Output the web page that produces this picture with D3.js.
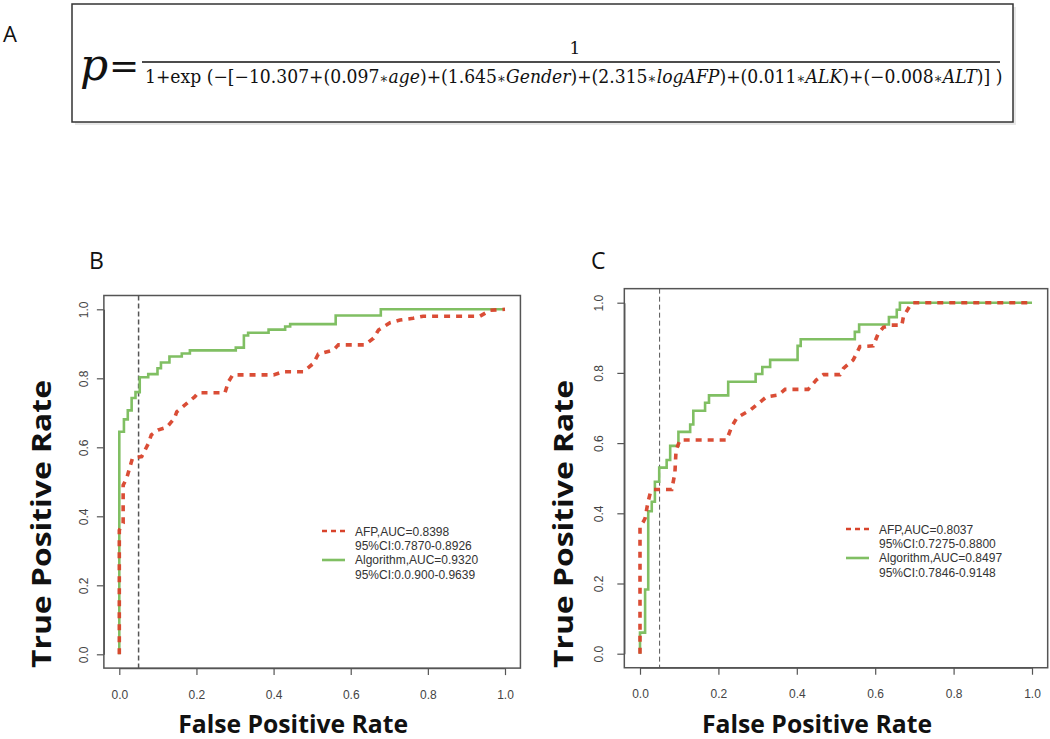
<!DOCTYPE html>
<html><head><meta charset="utf-8">
<script src="https://cdn.jsdelivr.net/npm/d3@7"></script>
<style>
html,body{margin:0;padding:0;background:#fff;}
svg{display:block;}
</style></head>
<body>
<svg id="chart" width="1050" height="739"></svg>
<script>
// ---------- DATA ----------
const tickValues = [0, 0.2, 0.4, 0.6, 0.8, 1.0];
const cutoffFPR = 0.05;

// Panel B
const bAlgorithm = [[0,0],[0,0.645],[0.012,0.681],[0.022,0.707],[0.032,0.743],[0.042,0.760],[0.053,0.803],[0.075,0.812],[0.099,0.829],[0.108,0.846],[0.130,0.863],[0.162,0.872],[0.183,0.881],[0.302,0.889],[0.323,0.924],[0.334,0.932],[0.387,0.941],[0.430,0.950],[0.443,0.957],[0.561,0.982],[0.678,1.0],[1.0,1.0]];
const bAFP = [[0,0],[0,0.36],[0.010,0.38],[0.010,0.49],[0.019,0.51],[0.034,0.568],[0.058,0.573],[0.075,0.61],[0.083,0.636],[0.10,0.65],[0.123,0.658],[0.143,0.684],[0.149,0.703],[0.175,0.727],[0.196,0.747],[0.205,0.758],[0.274,0.758],[0.283,0.79],[0.294,0.81],[0.40,0.81],[0.425,0.819],[0.477,0.819],[0.503,0.843],[0.516,0.87],[0.555,0.882],[0.568,0.897],[0.637,0.897],[0.659,0.916],[0.672,0.94],[0.702,0.961],[0.728,0.969],[0.762,0.974],[0.788,0.98],[0.935,0.98],[0.961,0.997],[1,1]];
const bLegend = ["AFP,AUC=0.8398","95%CI:0.7870-0.8926","Algorithm,AUC=0.9320","95%CI:0.0.900-0.9639"];

// Panel C
const cAlgorithm = [[0,0],[0,0.06],[0.013,0.183],[0.021,0.406],[0.030,0.433],[0.038,0.49],[0.049,0.53],[0.068,0.552],[0.077,0.592],[0.098,0.632],[0.128,0.653],[0.136,0.692],[0.166,0.715],[0.176,0.736],[0.225,0.775],[0.295,0.797],[0.312,0.817],[0.332,0.837],[0.402,0.877],[0.41,0.896],[0.548,0.917],[0.559,0.938],[0.635,0.959],[0.655,0.98],[0.663,1.0],[1,1]];
const cAFP = [[0,0],[0,0.362],[0.0085,0.376],[0.013,0.386],[0.02,0.43],[0.026,0.457],[0.034,0.468],[0.081,0.468],[0.089,0.514],[0.092,0.58],[0.102,0.609],[0.221,0.609],[0.234,0.647],[0.247,0.672],[0.281,0.694],[0.302,0.713],[0.323,0.732],[0.353,0.737],[0.37,0.753],[0.429,0.753],[0.45,0.78],[0.468,0.795],[0.51,0.795],[0.519,0.813],[0.544,0.837],[0.561,0.875],[0.595,0.877],[0.608,0.913],[0.621,0.93],[0.642,0.936],[0.668,0.936],[0.672,0.96],[0.689,0.992],[0.697,1.0],[1,1]];
const cLegend = ["AFP,AUC=0.8037","95%CI:0.7275-0.8800","Algorithm,AUC=0.8497","95%CI:0.7846-0.9148"];

const xTitle = "False Positive Rate";
const yTitle = "True Positive Rate";

// ---------- STYLE ----------
const GREEN = "#80bf63";
const RED = "#d8432b";
const svg = d3.select("#chart");

// ---------- Panel A: formula ----------
svg.append("text").attr("x",3).attr("y",42).attr("font-family","Open Sans, Liberation Sans, sans-serif")
  .attr("font-size",22).attr("fill","#111").text("A");
svg.append("rect").attr("x",75).attr("y",7).attr("width",941).attr("height",118).attr("fill","#d8d8d8").attr("opacity",0.6);
svg.append("rect").attr("x",72).attr("y",4).attr("width",941).attr("height",118)
  .attr("fill","#fff").attr("stroke","#333").attr("stroke-width",1.5);
svg.append("text").attr("x",80).attr("y",80).attr("font-family","DejaVu Serif, Liberation Serif, serif")
  .attr("font-style","italic").attr("font-size",44).attr("fill","#111").text("p");
svg.append("text").attr("x",109).attr("y",78).attr("font-family","DejaVu Serif, serif")
  .attr("font-size",36).attr("fill","#111").text("=");
svg.append("line").attr("x1",142).attr("x2",1000).attr("y1",62).attr("y2",62).attr("stroke","#111").attr("stroke-width",1.6);
svg.append("text").attr("x",575).attr("y",54).attr("text-anchor","middle").attr("font-family","DejaVu Serif, serif")
  .attr("font-size",17).attr("fill","#111").text("1");
const denG = svg.append("g");
const den = denG.append("text").attr("x",0).attr("y",0).attr("font-family","DejaVu Serif, serif")
  .attr("font-size",18).attr("fill","#111");
const denParts = [["1+exp (−[−10.307+(0.097",0],["∗",2],["age",1],[")+(1.645",0],["∗",2],["Gender",1],[")+(2.315",0],["∗",2],["logAFP",1],[")+(0.011",0],["∗",2],["ALK",1],[")+(−0.008",0],["∗",2],["ALT",1],[")] )",0]];
denParts.forEach(([t,k]) => den.append("tspan").attr("font-style", k===1 ? "italic" : "normal")
  .attr("font-size", k===2 ? 14 : null).text(t));
const denW = den.node().getComputedTextLength();
denG.attr("transform",`translate(145,83) scale(${858/denW},1)`);

// ---------- ROC panel ----------
function panel(o){
  const x = d3.scaleLinear().domain([0,1]).range([o.x0,o.x1]);
  const y = d3.scaleLinear().domain([0,1]).range([o.y0,o.y1]);
  const padX = (o.x1-o.x0)*0.04, padY = (o.y0-o.y1)*0.04;
  const g = svg.append("g");
  g.append("text").attr("x",o.labelX).attr("y",269).attr("font-family","Open Sans, Liberation Sans, sans-serif")
    .attr("font-size",23).attr("fill","#111").text(o.label);

  // axes
  const xa = g.append("g").attr("transform",`translate(0,${o.y0+padY})`)
    .call(d3.axisBottom(x).tickValues(tickValues).tickFormat(d3.format(".1f")).tickSize(7).tickSizeOuter(0).tickPadding(15));
  const ya = g.append("g").attr("transform",`translate(${o.x0-padX},0)`)
    .call(d3.axisLeft(y).tickValues(tickValues).tickFormat(d3.format(".1f")).tickSize(7).tickSizeOuter(0));
  [xa,ya].forEach(a=>{
    a.selectAll("path.domain").attr("stroke","#555").attr("stroke-width",1.2);
    a.selectAll(".tick line").attr("stroke","#555").attr("stroke-width",1.2);
    a.selectAll(".tick text").attr("font-family","Liberation Sans, Arial, sans-serif").attr("font-size",12).attr("fill","#444");
  });
  ya.selectAll(".tick text").attr("x",null).attr("dy",null).attr("text-anchor","middle")
    .attr("transform",`translate(${-(o.x0-padX) + o.yLabX},0) rotate(-90)`);

  // box
  g.append("rect").attr("x",o.x0-padX).attr("y",o.y1-padY).attr("width",(o.x1-o.x0)+2*padX).attr("height",(o.y0-o.y1)+2*padY)
    .attr("fill","none").attr("stroke","#555").attr("stroke-width",1.5);

  // cutoff line
  g.append("line").attr("x1",x(cutoffFPR)).attr("x2",x(cutoffFPR)).attr("y1",o.y1-padY).attr("y2",o.y0+padY)
    .attr("stroke","#555").attr("stroke-width",o.cutW).attr("stroke-dasharray","5,3");

  const lineLin = d3.line().x(d=>x(d[0])).y(d=>y(d[1]));
  const lineStep = d3.line().x(d=>x(d[0])).y(d=>y(d[1])).curve(d3.curveStepAfter);
  g.append("path").datum(o.alg).attr("d",lineStep).attr("fill","none").attr("stroke",GREEN).attr("stroke-width",2.6);
  g.append("path").datum(o.afp).attr("d",lineLin).attr("fill","none").attr("stroke",RED).attr("stroke-width",3.6)
    .attr("stroke-dasharray","6,6").attr("opacity",0.95);

  // legend
  const L = o.legend;
  g.append("line").attr("x1",L.x).attr("x2",L.x+23).attr("y1",L.y).attr("y2",L.y).attr("stroke",RED).attr("stroke-width",2.6).attr("stroke-dasharray","5,4");
  g.append("line").attr("x1",L.x).attr("x2",L.x+23).attr("y1",L.y+29).attr("y2",L.y+29).attr("stroke",GREEN).attr("stroke-width",2.6);
  o.legendText.forEach((t,i)=>{
    g.append("text").attr("x",L.x+33).attr("y",L.y+4.5+i*14.4).attr("font-family","Liberation Sans, Arial, sans-serif")
      .attr("font-size",12).attr("fill","#333").text(t);
  });

  // titles
  g.append("text").attr("x",(x(0)+x(1))/2 + o.xtOff).attr("y",733).attr("text-anchor","middle")
    .attr("font-family","Open Sans, sans-serif").attr("font-weight",700).attr("font-size",25).attr("fill","#111")
    .attr("textLength",230).attr("lengthAdjust","spacingAndGlyphs").text(xTitle);
  g.append("text").attr("transform",`translate(${o.ytX},524) rotate(-90)`).attr("text-anchor","middle")
    .attr("font-family","Open Sans, sans-serif").attr("font-weight",700).attr("font-size",26).attr("fill","#111")
    .attr("textLength",288).attr("lengthAdjust","spacingAndGlyphs").text(yTitle);
}

panel({x0:119.3,x1:505,y0:654.3,y1:309.3,label:"B",labelX:89,alg:bAlgorithm,afp:bAFP,
  legend:{x:322,y:531},legendText:bLegend,yLabX:88,ytX:51,xtOff:-19,cutW:1.5});
panel({x0:640,x1:1032,y0:653.7,y1:302.7,label:"C",labelX:591,alg:cAlgorithm,afp:cAFP,
  legend:{x:846,y:529},legendText:cLegend,yLabX:603,ytX:573,xtOff:-19,cutW:1});
</script>
</body></html>
